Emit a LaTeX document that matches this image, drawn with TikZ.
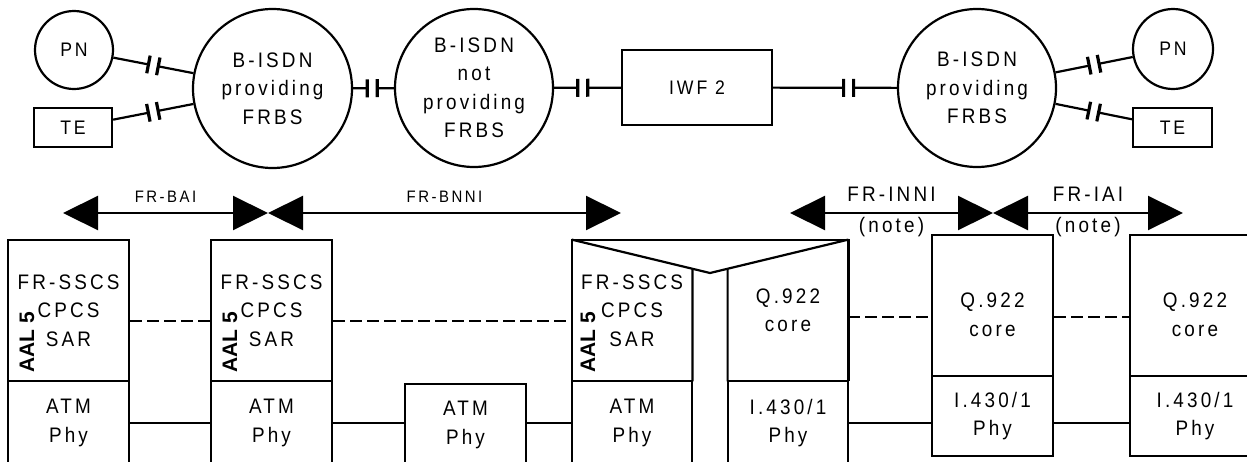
\documentclass[tikz,border=0pt]{standalone}
\usepackage{fontspec}
\setmainfont{Liberation Sans}[LetterSpace=15, FakeStretch=0.9]
\newfontfamily\aalfont{Liberation Sans}
\usetikzlibrary{arrows.meta, decorations.markings}

\begin{document}
\begin{tikzpicture}[x=0.5pt, y=-0.5pt,
    every node/.style={inner sep=0pt, align=center, font=\fontsize{10.5}{14.25}\selectfont},
    site/.style={circle, draw, line width=1.1pt},
    unit/.style={rectangle, draw, line width=1.1pt},
    tag/.style={font=\fontsize{9.8}{12}\selectfont},
    layer/.style={rectangle, draw, line width=1.1pt},
    ghost/.style={rectangle},
    aal/.style={rotate=90, font=\aalfont\bfseries\fontsize{10.5}{12}\selectfont},
    small/.style={font=\fontsize{8.3}{10}\selectfont},
    wire/.style={line width=1.1pt},
    peer/.style={line width=1.1pt, dash pattern=on 6pt off 2.5pt},
    link/.style={line width=1.1pt, postaction=decorate, decoration={markings,
        mark=at position #1 with {
          \fill[white] (-2.5pt,-1.2pt) rectangle (2.5pt,1.2pt);
          \draw[line width=1.6pt] (-2.5pt,-4.5pt) -- (-2.5pt,4.5pt)
                                  (2.5pt,-4.5pt) -- (2.5pt,4.5pt);}}},
    link/.default=0.5,
    iface/.style={line width=1.1pt,
        {Triangle[length=17.5pt,width=17pt]}-{Triangle[length=17.5pt,width=17pt]}},
]
    \useasboundingbox (0,0) rectangle (1247,461);
    \clip (0,0) rectangle (1247,461);

    % Networks and terminals
    \node[site, tag, minimum size=39pt] (pnL) at (74,50) {PN};
    \node[unit, tag, minimum width=39pt, minimum height=19.5pt] (teL) at (73,127.5) {TE};
    \node[site, minimum size=79.5pt] (bisdnL) at (272.5,88.5) {B-ISDN\\providing\\FRBS};
    \node[site, minimum size=79pt] (bisdnM) at (474,88) {B-ISDN\\not\\providing\\FRBS};
    \node[unit, tag, minimum width=75pt, minimum height=37.5pt] (iwf) at (697,87.5) {IWF 2};
    \node[site, minimum size=79pt] (bisdnR) at (977,88) {B-ISDN\\providing\\FRBS};
    \node[site, tag, minimum size=40pt] (pnR) at (1173,49) {PN};
    \node[unit, tag, minimum width=39.5pt, minimum height=19.5pt] (teR) at (1172.5,127.5) {TE};

    \draw[link] (pnL) -- (bisdnL);
    \draw[link] (teL) -- (bisdnL);
    \draw[link=0.47] (bisdnL) -- (bisdnM);
    \draw[link=0.43] (bisdnM) -- (iwf);
    \draw[link=0.61] (iwf) -- (bisdnR);
    \draw[link] (bisdnR) -- (pnR);
    \draw[link] (bisdnR) -- (teR);

    % Interfaces
    \coordinate (baiL) at (63,213);
    \coordinate (baiR) at (268,213);
    \coordinate (bnniR) at (621,213);
    \coordinate (inniL) at (790,213);
    \coordinate (inniR) at (993,213);
    \coordinate (iaiR) at (1183,213);
    \draw[iface] (baiL) -- node[small, above=4.5pt] (bai) {FR-BAI} (baiR);
    \draw[iface] (baiR) -- node[small, above=4.5pt] (bnni) {FR-BNNI} (bnniR);
    \draw[iface] (inniL) -- node[above=5pt] (inni) {FR-INNI}
        node[below=1.5pt] (inninote) {(note)} (inniR);
    \draw[iface] (inniR) -- node[above=5pt] (iai) {FR-IAI}
        node[below=1.5pt] (iainote) {(note)} (iaiR);

    % Protocol stacks
    \node[layer, minimum width=60.5pt, minimum height=70.5pt] (aal1) at (68.5,310.5) {FR-SSCS\\CPCS\\SAR};
    \node[layer, minimum width=60.5pt, minimum height=42pt] (phy1) at (68.5,423) {ATM\\Phy};
    \node[aal] (aal1tag) at (27,342) {AAL 5};

    \node[layer, minimum width=60.5pt, minimum height=70.5pt] (aal2) at (271.5,310.5) {FR-SSCS\\CPCS\\SAR};
    \node[layer, minimum width=60.5pt, minimum height=42pt] (phy2) at (271.5,423) {ATM\\Phy};
    \node[aal] (aal2tag) at (230,342) {AAL 5};

    \node[layer, minimum width=60.5pt, minimum height=41pt] (phyM) at (465.5,425) {ATM\\Phy};

    \node[ghost, minimum width=60pt, minimum height=70.5pt] (aal3) at (632,310.5) {FR-SSCS\\CPCS\\SAR};
    \node[layer, minimum width=60pt, minimum height=42pt] (phy3) at (632,423) {ATM\\Phy};
    \node[aal] (aal3tag) at (588,342) {AAL 5};
    \node[ghost, minimum width=60pt, minimum height=70.5pt] (q4) at (788,310.5) {Q.922\\core};
    \node[layer, minimum width=60pt, minimum height=42pt] (phy4) at (788,423) {I.430/1\\Phy};

    % IWF outline
    \coordinate (vtip) at (710,273);
    \draw[wire] (aal3.south west) -- (aal3.north west) -- (q4.north east) -- (q4.south east);
    \draw[wire] (aal3.north west) -- (vtip) -- (q4.north east);
    \draw[wire] (aal3.south east) -- (intersection of aal3.south east--aal3.north east and aal3.north west--vtip);
    \draw[wire] (q4.south west) -- (intersection of q4.south west--q4.north west and vtip--q4.north east);

    \node[layer, minimum width=60.5pt, minimum height=70.5pt] (q5) at (992.5,305.5) {};
    \node (q5txt) at (992.5,315) {Q.922\\core};
    \node[layer, minimum width=60.5pt, minimum height=40pt] (phy5) at (992.5,416) {I.430/1\\Phy};

    \node[layer, minimum width=65pt, minimum height=70.5pt] (q6) at (1195,305.5) {};
    \node (q6txt) at (1195,315) {Q.922\\core};
    \node[layer, minimum width=65pt, minimum height=40pt] (phy6) at (1195,416) {I.430/1\\Phy};

    % Peer and physical links
    \coordinate (peerA) at (0,321);
    \coordinate (peerB) at (0,317);
    \coordinate (phyrow) at (0,423);
    \draw[peer] (aal1.east |- peerA) -- (aal2.west |- peerA);
    \draw[peer] (aal2.east |- peerA) -- (aal3.west |- peerA);
    \draw[peer] (q4.east |- peerB) -- (q5.west |- peerB);
    \draw[peer] (q5.east |- peerB) -- (q6.west |- peerB);
    \draw[wire] (phy1.east |- phyrow) -- (phy2.west |- phyrow);
    \draw[wire] (phy2.east |- phyrow) -- (phyM.west |- phyrow);
    \draw[wire] (phyM.east |- phyrow) -- (phy3.west |- phyrow);
    \draw[wire] (phy4.east |- phyrow) -- (phy5.west |- phyrow);
    \draw[wire] (phy5.east |- phyrow) -- (phy6.west |- phyrow);
\end{tikzpicture}
\end{document}
